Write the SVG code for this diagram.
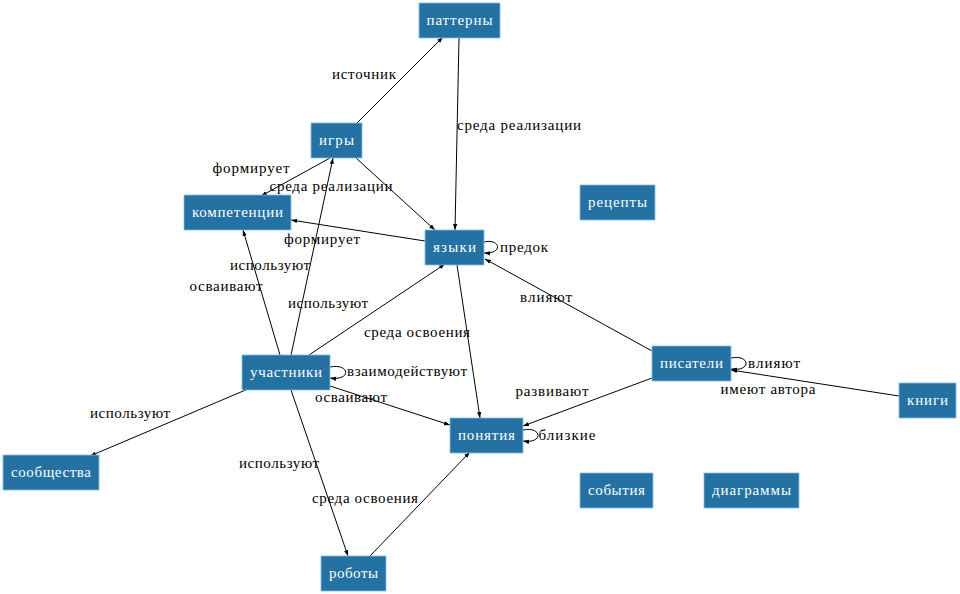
<svg xmlns="http://www.w3.org/2000/svg" width="960" height="594" viewBox="0 0 960 594">
<style>
.n rect{fill:#2471a3;stroke:#85c1e9;stroke-width:0.8}
.n text{fill:#ffffff;font-family:"Liberation Serif",serif;font-size:15px;text-anchor:middle}
.e path{fill:none;stroke:#000;stroke-width:1;marker-end:url(#a)}
.e text{fill:#000;font-family:"Liberation Serif",serif;font-size:15px;text-anchor:middle}
</style>
<defs>
<marker id="a" viewBox="0 0 10 10" refX="10" refY="5" markerWidth="6" markerHeight="6" orient="auto" markerUnits="userSpaceOnUse">
<path d="M0,1.5 L10,5 L0,8.5 Z" fill="#000"/>
</marker>
</defs>
<rect width="960" height="594" fill="#fff"/>
<g class="e" id="edges">
<path d="M357,123 L443,37"/>
<text x="364" y="79" textLength="64">источник</text>
<path d="M459,38 L455,230"/>
<text x="519" y="130" textLength="124">среда реализации</text>
<path d="M330,158 L261,196"/>
<text x="251" y="173" textLength="77">формирует</text>
<path d="M356,158 L435,230"/>
<text x="331" y="191" textLength="123">среда реализации</text>
<path d="M425,241 L291,220"/>
<text x="322" y="244" textLength="76">формирует</text>
<path d="M484,242 C500,238 504,254 484,253"/>
<text x="524" y="252" textLength="48">предок</text>
<path d="M280,355 L243,230"/>
<text x="270" y="270" textLength="80">используют</text>
<text x="226" y="291" textLength="73">осваивают</text>
<path d="M291,355 L333,158"/>
<text x="328" y="308" textLength="80">используют</text>
<path d="M309,355 L445,264"/>
<text x="417" y="337" textLength="106">среда освоения</text>
<path d="M457,265 L480,418"/>
<path d="M652,351 L485,259"/>
<text x="546" y="302" textLength="52">влияют</text>
<path d="M731,358 C750,354 752,372 731,369"/>
<text x="774" y="368" textLength="52">влияют</text>
<path d="M899,396 L731,370"/>
<text x="768" y="394" textLength="95">имеют автора</text>
<path d="M652,378 L523,426"/>
<text x="552" y="396" textLength="73">развивают</text>
<path d="M523,430 C542,426 544,444 523,441"/>
<text x="567" y="440" textLength="57">близкие</text>
<path d="M330,367 C350,363 352,381 330,378"/>
<text x="407" y="376" textLength="120">взаимодействуют</text>
<path d="M330,386 L450,425"/>
<text x="351" y="402" textLength="72">осваивают</text>
<path d="M248,389 L90,456"/>
<text x="130" y="418" textLength="80">используют</text>
<path d="M291,390 L348,556"/>
<text x="279" y="468" textLength="80">используют</text>
<path d="M370,556 L470,452"/>
<text x="365" y="503" textLength="106">среда освоения</text>
</g>
<g class="n" id="n-patterns"><rect x="419" y="3" width="81" height="35"/><text x="459.5" y="25" textLength="66">паттерны</text></g>
<g class="n" id="n-games"><rect x="311" y="123" width="51" height="35"/><text x="336.5" y="145" textLength="35">игры</text></g>
<g class="n" id="n-competences"><rect x="184" y="195" width="107" height="35"/><text x="237.5" y="217" textLength="91">компетенции</text></g>
<g class="n" id="n-languages"><rect x="425" y="230" width="59" height="35"/><text x="454.5" y="252" textLength="43">языки</text></g>
<g class="n" id="n-recipes"><rect x="580" y="185" width="75" height="35"/><text x="617.5" y="207" textLength="59">рецепты</text></g>
<g class="n" id="n-participants"><rect x="242" y="355" width="88" height="35"/><text x="286" y="377" textLength="72">участники</text></g>
<g class="n" id="n-writers"><rect x="652" y="346" width="79" height="35"/><text x="691.5" y="368" textLength="63">писатели</text></g>
<g class="n" id="n-books"><rect x="899" y="383" width="57" height="35"/><text x="927.5" y="405" textLength="41">книги</text></g>
<g class="n" id="n-concepts"><rect x="450" y="418" width="73" height="35"/><text x="486.5" y="440" textLength="57">понятия</text></g>
<g class="n" id="n-communities"><rect x="3" y="455" width="96" height="35"/><text x="51" y="477" textLength="80">сообщества</text></g>
<g class="n" id="n-events"><rect x="580" y="473" width="73" height="35"/><text x="616.5" y="495" textLength="57">события</text></g>
<g class="n" id="n-diagrams"><rect x="704" y="473" width="95" height="35"/><text x="751.5" y="495" textLength="79">диаграммы</text></g>
<g class="n" id="n-robots"><rect x="321" y="556" width="65" height="35"/><text x="353.5" y="578" textLength="49">роботы</text></g>
</svg>
